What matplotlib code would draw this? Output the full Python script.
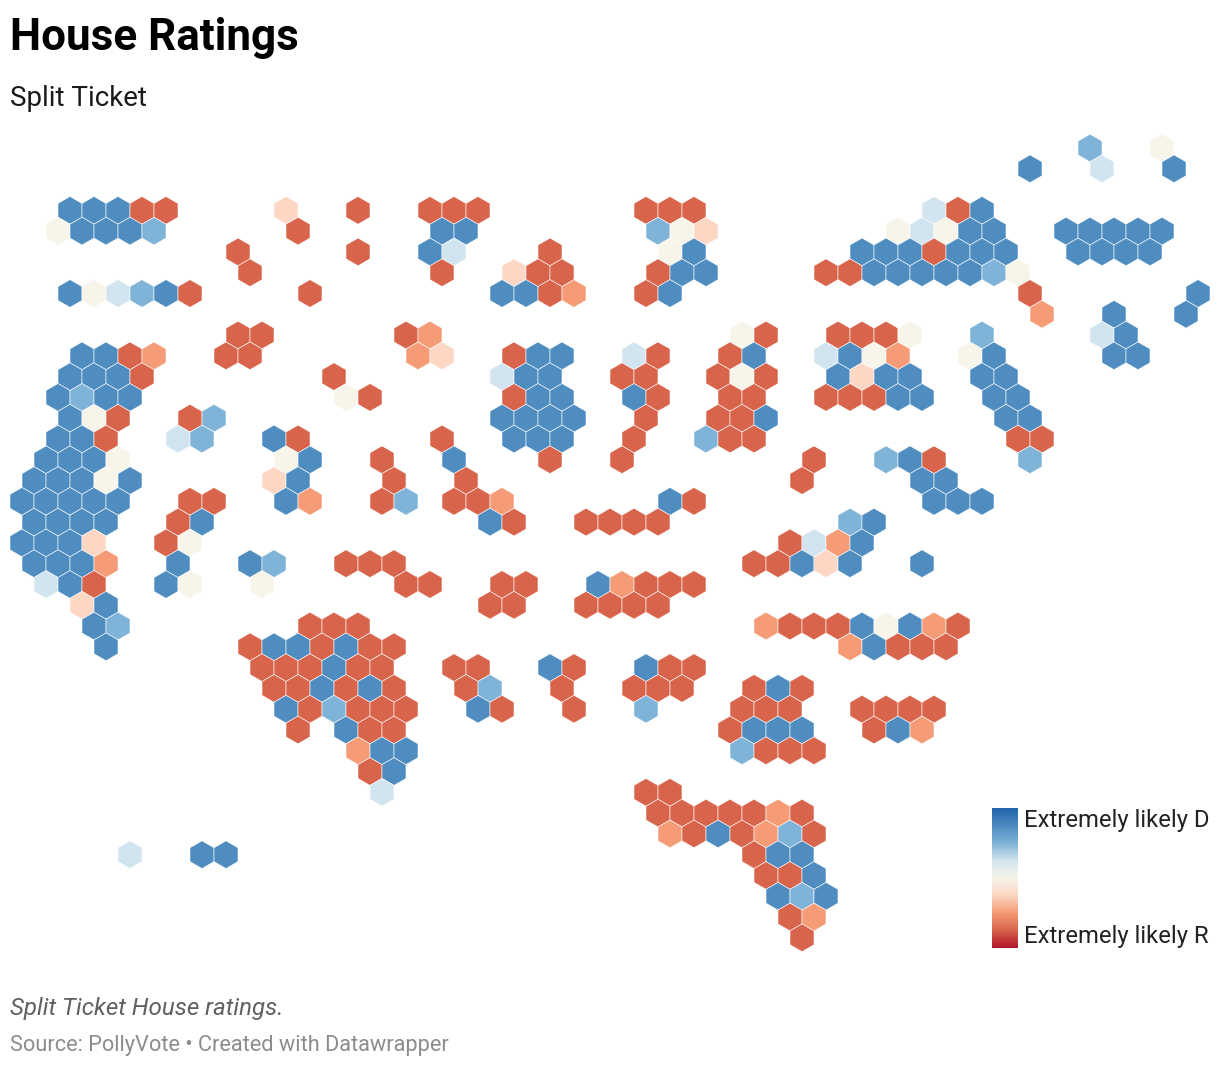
import numpy as np
import matplotlib
matplotlib.use('Agg')
import matplotlib.pyplot as plt
from matplotlib.patches import RegularPolygon
from matplotlib.colors import LinearSegmentedColormap

plt.rcParams['font.family'] = ['Roboto', 'DejaVu Sans']

title = 'House Ratings'
subtitle = 'Split Ticket'
note = 'Split Ticket House ratings.'
source = 'Source: PollyVote • Created with Datawrapper'
legend_top = 'Extremely likely D'
legend_bottom = 'Extremely likely R'

# rating codes, D to R
colors = {
    'B': '#4f8dc1',
    'L': '#7fb4d8',
    'P': '#d1e4ef',
    'N': '#f7f5e9',
    'S': '#fdd6c4',
    'O': '#f59c76',
    'R': '#d9644c',
}
scale_colors = ['#2166ac', '#4f8dc1', '#7fb4d8', '#d1e4ef', '#f7f5e9', '#fdd6c4', '#f59c76', '#d9644c', '#b2182b']

# one entry per hex row: (first column, ratings running right), columns step by 2
rows = [
    [(90, 'L'), (96, 'N')],
    [(85, 'B'), (91, 'P'), (97, 'B')],
    [],
    [(5, 'BBBRR'), (23, 'S'), (29, 'R'), (35, 'RRR'), (53, 'RRR'), (77, 'PRB')],
    [(4, 'NBBBL'), (24, 'R'), (36, 'BB'), (54, 'LNS'), (74, 'NPNBB'), (88, 'BBBBB')],
    [(19, 'R'), (29, 'R'), (35, 'BP'), (45, 'R'), (55, 'NB'), (71, 'BBBRBBB'), (89, 'BBBB')],
    [(20, 'R'), (36, 'R'), (42, 'SRR'), (54, 'RBB'), (68, 'RRBBBBBLN')],
    [(5, 'BNPLBR'), (25, 'R'), (41, 'BBRO'), (53, 'RB'), (85, 'R'), (99, 'B')],
    [(86, 'O'), (92, 'B'), (98, 'B')],
    [(19, 'RR'), (33, 'RO'), (61, 'NR'), (69, 'RRRN'), (81, 'L'), (91, 'PB')],
    [(6, 'BBRO'), (18, 'RR'), (34, 'OS'), (42, 'RBB'), (52, 'PR'), (60, 'RB'), (68, 'PBNO'), (80, 'NB'), (92, 'BB')],
    [(5, 'BBBR'), (27, 'R'), (41, 'PBB'), (51, 'RR'), (59, 'RNR'), (69, 'BSBB'), (81, 'BB')],
    [(4, 'BLBB'), (28, 'NR'), (42, 'RBB'), (52, 'BR'), (60, 'RR'), (68, 'RRRBB'), (82, 'BB')],
    [(5, 'BNR'), (15, 'RL'), (41, 'BBBB'), (53, 'R'), (59, 'RRB'), (83, 'BB')],
    [(4, 'BBR'), (14, 'PL'), (22, 'BR'), (36, 'R'), (42, 'BBB'), (52, 'R'), (58, 'LRR'), (84, 'RR')],
    [(3, 'BBBN'), (23, 'NB'), (31, 'R'), (37, 'B'), (45, 'R'), (51, 'R'), (67, 'R'), (73, 'LBR'), (85, 'L')],
    [(2, 'BBBNB'), (22, 'SB'), (32, 'R'), (38, 'R'), (66, 'R'), (76, 'BB')],
    [(1, 'BBBBB'), (15, 'RR'), (23, 'BO'), (31, 'RL'), (37, 'RRO'), (55, 'BR'), (77, 'BBB')],
    [(2, 'BBBB'), (14, 'RB'), (40, 'BR'), (48, 'RRRR'), (70, 'LB')],
    [(1, 'BBBS'), (13, 'RN'), (65, 'RPOB')],
    [(2, 'BBBO'), (14, 'B'), (20, 'BL'), (28, 'RRR'), (62, 'RRBSB'), (76, 'B')],
    [(3, 'PBR'), (13, 'BN'), (21, 'N'), (33, 'RR'), (41, 'RR'), (49, 'BORRR')],
    [(6, 'SB'), (40, 'RR'), (48, 'RRRR')],
    [(7, 'BL'), (25, 'RRR'), (63, 'ORRRBNBOR')],
    [(8, 'B'), (20, 'RBBRBRR'), (70, 'OBRRR')],
    [(21, 'RRRBRR'), (37, 'RR'), (45, 'BR'), (53, 'BRR')],
    [(22, 'RRBRBR'), (38, 'RL'), (46, 'R'), (52, 'RRR'), (62, 'RBR')],
    [(23, 'BRLRRR'), (39, 'BR'), (47, 'R'), (53, 'L'), (61, 'RRR'), (71, 'RRRR')],
    [(24, 'R'), (28, 'BRR'), (60, 'RBBB'), (72, 'RBO')],
    [(29, 'OBB'), (61, 'LRRR')],
    [(30, 'RB')],
    [(31, 'P'), (53, 'RR')],
    [(54, 'RRRRROR')],
    [(55, 'ORBROLR')],
    [(10, 'P'), (16, 'BB'), (62, 'RBB')],
    [(63, 'RRB')],
    [(64, 'BLB')],
    [(65, 'RO')],
    [(66, 'R')],
]

hex_w = 24
hex_r = hex_w / np.sqrt(3)
row_h = 1.5 * hex_r
x0, y0 = 10, 148

fig = plt.figure(figsize=(12.2, 10.66), dpi=100)
ax = fig.add_axes([0, 0, 1, 1])
ax.set_xlim(0, 1220)
ax.set_ylim(1066, 0)
ax.axis('off')

for k, row in enumerate(rows):
    for col, ratings in row:
        for i, r in enumerate(ratings):
            cx = x0 + (col + 2 * i) * hex_w / 2
            cy = y0 + k * row_h
            ax.add_patch(RegularPolygon((cx, cy), 6, radius=hex_r, orientation=0,
                                        facecolor=colors[r], edgecolor='white', linewidth=0.4))

# legend
cmap = LinearSegmentedColormap.from_list('rating', scale_colors)
ax.imshow(np.linspace(0, 1, 140).reshape(-1, 1), cmap=cmap, aspect='auto',
          extent=(992, 1018, 948, 808), zorder=3)
ax.set_xlim(0, 1220)
ax.set_ylim(1066, 0)
ax.text(1024, 820, legend_top, fontsize=17.2, color='#222222', va='center')
ax.text(1024, 936, legend_bottom, fontsize=17.2, color='#222222', va='center')

ax.text(10, 38, title, fontsize=31.7, fontweight='bold', color='black', va='center')
ax.text(10, 99, subtitle, fontsize=20.0, color='#1a1a1a', va='center')
ax.text(10, 1008, note, fontsize=17.4, style='italic', color='#606060', va='center')
ax.text(10, 1045, source, fontsize=15.7, color='#8c8c8c', va='center')

plt.savefig('out.png', dpi=100)
